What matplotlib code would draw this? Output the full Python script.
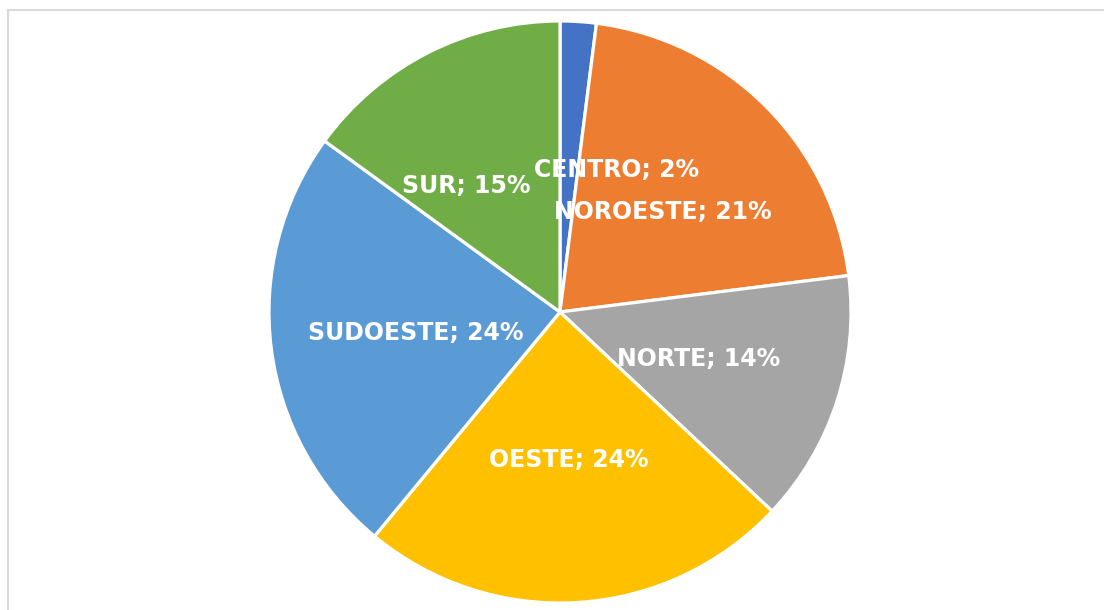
import matplotlib
matplotlib.use("Agg")
import matplotlib.pyplot as plt
from matplotlib.patches import Rectangle

# data
regions = ["CENTRO", "NOROESTE", "NORTE", "OESTE", "SUDOESTE", "SUR"]
shares = [2, 21, 14, 24, 24, 15]
colors = ["#4472C4", "#ED7D31", "#A5A5A5", "#FFC000", "#5B9BD5", "#70AD47"]

W, H = 1104, 610
cx, cy, R = 560, 312, 291  # pie centre / radius in pixels

fig = plt.figure(figsize=(W / 100, H / 100), dpi=100)
fig.patch.set_facecolor("white")

# light grey chart-area frame (runs off right and bottom)
fig.patches.append(Rectangle((7.5 / W, -0.1), 1.2, (H - 9.5) / H + 0.1,
                             transform=fig.transFigure, fill=False,
                             edgecolor="#D9D9D9", linewidth=1.5))

ax = fig.add_axes([0, 0, 1, 1])
labels = [f"{r}; {s}%" for r, s in zip(regions, shares)]
wedges, texts = ax.pie(shares, labels=labels, colors=colors, startangle=90,
                       counterclock=False, labeldistance=0.5,
                       wedgeprops=dict(edgecolor="white", linewidth=2.3),
                       textprops=dict(color="white", fontsize=17,
                                      fontweight="bold", ha="center",
                                      va="center_baseline"))

# Excel moved two labels to keep them apart
texts[0].set_position((0.193, 0.497))
texts[5].set_position((-0.321, 0.441))

ax.set_xlim(-cx / R, (W - cx) / R)
ax.set_ylim(-(H - cy) / R, cy / R)
ax.set_aspect("auto")
ax.axis("off")

plt.savefig("out.png", dpi=100)
